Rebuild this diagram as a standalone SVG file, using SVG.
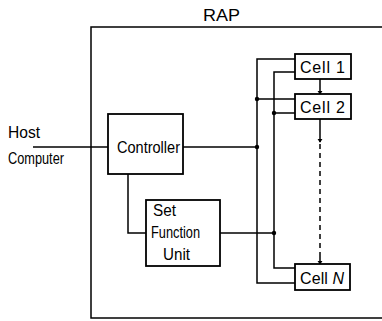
<svg xmlns="http://www.w3.org/2000/svg" width="382" height="321" viewBox="0 0 382 321">
<style>
.ln{fill:none;stroke:#000;stroke-width:1.5}
.bx{fill:#fff;stroke:#000;stroke-width:1.8}
.t{font-family:"Liberation Sans",Arial,sans-serif;font-size:16px;fill:#000}
.dot{fill:#000}
</style>
<defs>
<marker id="ah" viewBox="0 0 6 8" refX="5" refY="4" markerWidth="4" markerHeight="6" orient="auto-start-reverse" markerUnits="userSpaceOnUse">
<path d="M0,0 L6,4 L0,8 Z" fill="#000"/>
</marker>
</defs>
<rect x="91" y="27" width="300" height="291" fill="none" stroke="#000" stroke-width="1.5"/>
<text class="t" x="203" y="21" textLength="37" lengthAdjust="spacingAndGlyphs" font-size="15">RAP</text>
<g id="connectors">
<path class="ln" d="M33,147 H108"/>
<path class="ln" d="M183,147 H257"/>
<path class="ln" d="M128,174 V233 H146"/>
<path class="ln" d="M220,233 H274"/>
<path class="ln" d="M295,59 H257 V283 H295"/>
<path class="ln" d="M295,72 H274 V268 H295"/>
<path class="ln" d="M257,99 H295"/>
<path class="ln" d="M274,113 H295"/>
<path class="ln" d="M320,79 V94" marker-end="url(#ah)"/>
<path class="ln" d="M320,119 V142" marker-end="url(#ah)"/>
<path class="ln" d="M320,144 V252" stroke-dasharray="5,4"/>
<path class="ln" d="M320,252 V264" marker-end="url(#ah)"/>
<circle class="dot" cx="257" cy="147" r="2.2"/>
<circle class="dot" cx="257" cy="99" r="2.2"/>
<circle class="dot" cx="274" cy="113" r="2.2"/>
<circle class="dot" cx="274" cy="233" r="2.2"/>
</g>
<g id="host">
<text class="t" x="8" y="138" textLength="32" lengthAdjust="spacingAndGlyphs">Host</text>
<text class="t" x="8" y="164" textLength="56" lengthAdjust="spacingAndGlyphs">Computer</text>
</g>
<g id="controller">
<rect class="bx" x="108" y="114" width="75" height="60"/>
<text class="t" x="117" y="153" textLength="63" lengthAdjust="spacingAndGlyphs">Controller</text>
</g>
<g id="sfu">
<rect class="bx" x="146" y="200" width="74" height="66"/>
<text class="t" x="153" y="216" textLength="23" lengthAdjust="spacingAndGlyphs">Set</text>
<text class="t" x="151" y="238" textLength="49" lengthAdjust="spacingAndGlyphs">Function</text>
<text class="t" x="163" y="260" textLength="27" lengthAdjust="spacingAndGlyphs">Unit</text>
</g>
<g id="cell1">
<rect class="bx" x="295" y="54" width="56" height="25"/>
<text class="t" x="300" y="73" textLength="45" lengthAdjust="spacing">Cell 1</text>
</g>
<g id="cell2">
<rect class="bx" x="295" y="94" width="56" height="25"/>
<text class="t" x="300" y="113" textLength="45" lengthAdjust="spacing">Cell 2</text>
</g>
<g id="cellN">
<rect class="bx" x="295" y="264" width="55" height="26"/>
<text class="t" x="300" y="284" textLength="44" lengthAdjust="spacing">Cell <tspan font-style="italic">N</tspan></text>
</g>
</svg>
